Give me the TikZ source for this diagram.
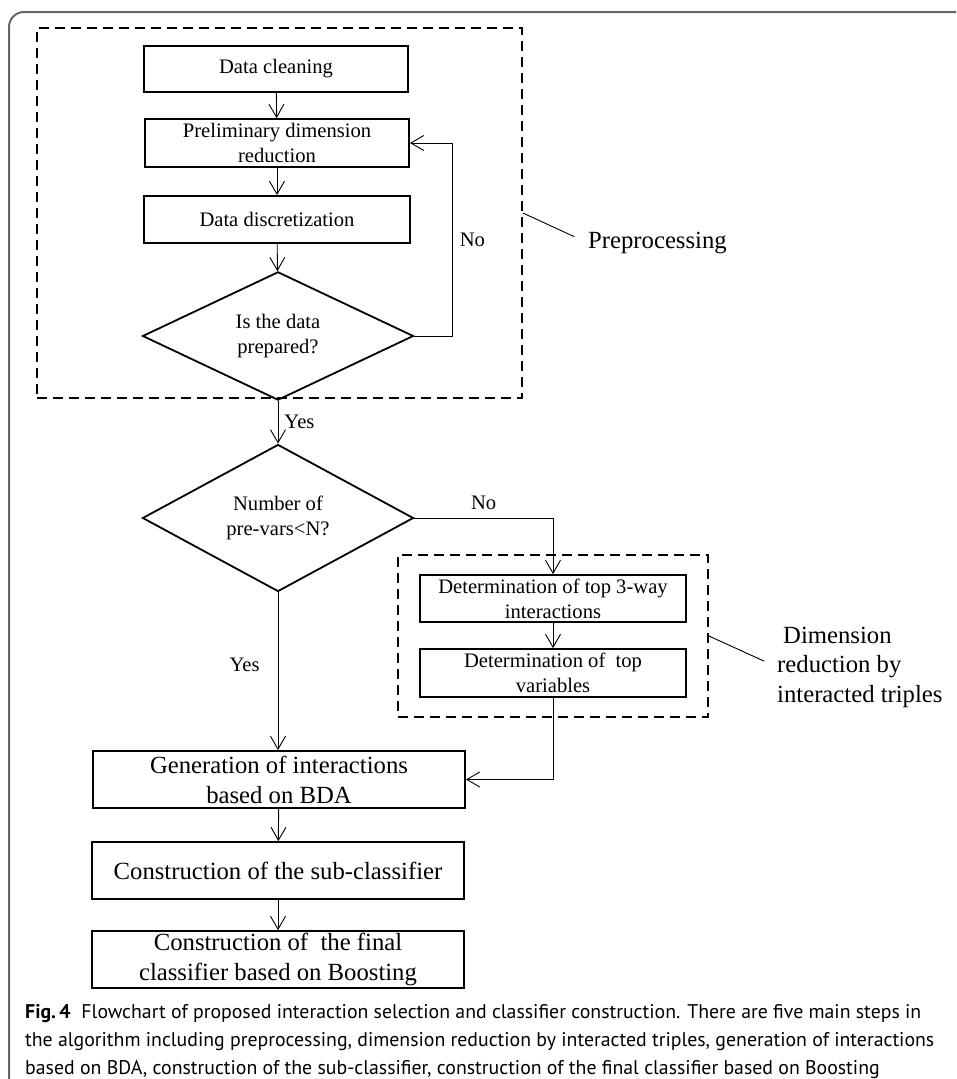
\documentclass[tikz,border=0pt]{standalone}
\usepackage{fontspec}
\setmainfont{Liberation Serif}
\newfontfamily\capfont{PT Sans}
\usetikzlibrary{positioning, arrows.meta, shapes.geometric}

\begin{document}
\begin{tikzpicture}[
    x=1pt, y=-1pt,
    box/.style={draw, rectangle, line width=1.8pt, align=center, inner sep=0pt, font=\fontsize{20.6}{25}\selectfont},
    bigbox/.style={box, minimum width=372pt, minimum height=57pt, font=\fontsize{24.7}{30}\selectfont},
    decision/.style={draw, diamond, line width=1.8pt, align=center, inner sep=0pt, minimum width=271pt, minimum height=124pt, font=\fontsize{20.6}{25}\selectfont},
    group/.style={draw, dash pattern=on 10pt off 6pt, line width=1.8pt, minimum width=#1},
    arrow/.style={-{Straight Barb[length=13pt, width=15pt, line width=0.9pt]}, line width=0.9pt},
    lbl/.style={font=\fontsize{20.6}{25}\selectfont, inner sep=0pt},
    side/.style={font=\fontsize{24.7}{29.5}\selectfont, align=left, inner sep=0pt, anchor=west}
]
\useasboundingbox (0,0) rectangle (956,1079);
% --- PAGE FRAME ---
\draw[line width=2pt, black!60, rounded corners=15pt] (9,1079) -- (9,12) -- (956,12);

% --- PREPROCESSING ---
\node[box, minimum width=264pt, minimum height=46pt] (clean) at (276,69) {Data cleaning};
\node[box, minimum width=264pt, minimum height=48pt] (prelim) at (277,143) {Preliminary dimension\\reduction};
\node[box, minimum width=266pt, minimum height=47pt] (discret) at (277,219.5) {Data discretization};
\node[decision] (ready) at (278,336) {Is the data\\prepared?};
\node[group=485pt, minimum height=370pt] (prebox) at (279.5,213) {};

% --- DIMENSION REDUCTION ---
\node[decision] (numvars) at (278,518) {Number of\\pre-vars<N?};
\node[box, minimum width=266pt, minimum height=47pt] (triples) at (553,598.5) {Determination of top 3-way\\interactions};
\node[box, minimum width=266pt, minimum height=48pt] (topvars) at (553,673) {Determination of~ top\\variables};
\node[group=310pt, minimum height=162pt] (dimbox) at (553,636) {};

% --- CLASSIFIER ---
\node[bigbox] (gen) at (279,779.5) {Generation of interactions\\based on BDA};
\node[bigbox] (sub) at (278,870.5) {Construction of the sub-classifier};
\node[bigbox] (final) at (278,959.5) {Construction of~ the final\\classifier based on Boosting};

% --- SIDE LABELS ---
\node[side] (prelabel) at (588,243) {Preprocessing};
\node[side] (dimlabel) at (777,667) {\hspace{6pt}Dimension\\reduction by\\interacted triples};
\draw[line width=0.9pt, shorten >=15pt] (prebox.east) -- (prelabel.west);
\draw[line width=0.9pt, shorten >=14pt] (dimbox.east) -- (dimlabel.west);

% --- FLOW ARROWS ---
\draw[arrow] (clean) -- (prelim);
\draw[arrow] (prelim) -- (discret);
\draw[arrow] (discret) -- (ready);
\draw[arrow] (ready) -- node[lbl, right=6pt] {Yes} (numvars);
\draw[arrow] (ready.east) -- ++(38,0) |- node[lbl, pos=0.25, right=7pt] {No} (prelim.east);
\draw[arrow] (numvars.east) -| node[lbl, pos=0.25, above=8pt] {No} (triples.north);
\draw[arrow] (triples) -- (topvars);
\draw[arrow] (topvars.south) |- (gen.east);
\draw[arrow] (numvars.south) -- node[lbl, pos=0.46, left=18pt] {Yes} (numvars.south |- gen.north);
\draw[arrow] (gen) -- (sub);
\draw[arrow] (sub) -- (final);

% --- CAPTION ---
\node[anchor=north west, align=left, inner sep=0pt, font=\capfont\fontsize{19.8}{28}\selectfont] (caption) at (25,1004)
    {\textbf{Fig.\,4}\hspace{0.55em}Flowchart of proposed interaction selection and classifier construction. There are five main steps in\\
     the algorithm including preprocessing, dimension reduction by interacted triples, generation of interactions\\
     based on BDA, construction of the sub-classifier, construction of the final classifier based on Boosting};
\end{tikzpicture}
\end{document}
